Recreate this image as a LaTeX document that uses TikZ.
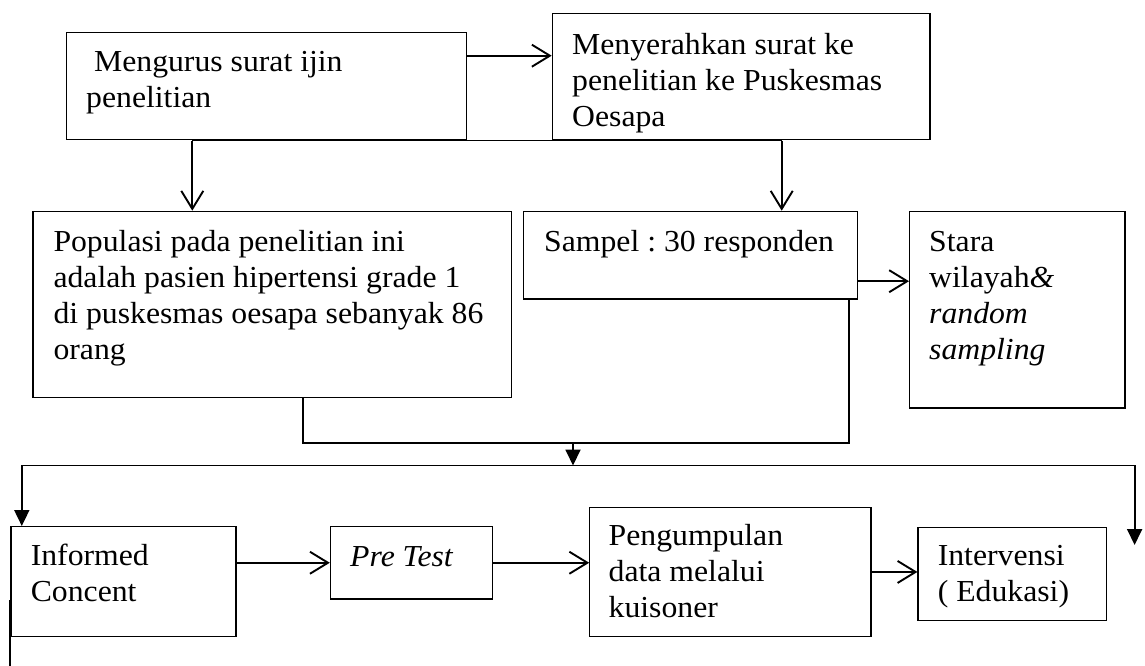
\documentclass[tikz,border=0pt]{standalone}
\usepackage{fontspec}
\setmainfont[FakeStretch=1.04]{Liberation Serif}
\usetikzlibrary{arrows.meta,calc}
\begin{document}
\begin{tikzpicture}[x=1pt,y=-1pt,
  box/.style={draw, line width=1.2pt, inner sep=0pt, anchor=north west},
  txt/.style={anchor=north west, inner sep=0pt, align=left, font=\fontsize{30.5}{36}\selectfont\frenchspacing},
  conn/.style={line width=1.9pt},
  oarrow/.style={conn, -{Straight Barb[length=18pt,width=22pt,line width=1.9pt]}},
  farrow/.style={conn, -{Triangle[length=16pt,width=15pt]}}]
\useasboundingbox (0,0) rectangle (1145,666);
% boxes
\node[box, minimum width=400.3pt, minimum height=106.4pt] (A) at (65.7,32.3) {};
\node[box, minimum width=377.6pt, minimum height=125.4pt] (B) at (551.7,13.3) {};
\node[box, minimum width=478.2pt, minimum height=186pt] (C) at (32.3,210.7) {};
\node[box, minimum width=333.8pt, minimum height=87.6pt] (D) at (522.7,210.7) {};
\node[box, minimum width=215.3pt, minimum height=196.6pt] (E) at (909,210.7) {};
\node[box, minimum width=225pt, minimum height=110pt] (F) at (10.3,526) {};
\node[box, minimum width=162.2pt, minimum height=72.3pt] (G) at (329.8,526) {};
\node[box, minimum width=281.2pt, minimum height=129.3pt] (H) at (589.2,506.7) {};
\node[box, minimum width=188.1pt, minimum height=93.3pt] (I) at (917.4,526.7) {};
% texts (first baseline = top + 25.2)
\node[txt] (tA) at (86,45.8) {\strut\ Mengurus surat ijin\\penelitian};
\node[txt] (tB) at (572,28.8) {\strut Menyerahkan surat ke\\penelitian ke Puskesmas\\Oesapa};
\node[txt] (tC) at (53.3,225.8) {\strut Populasi pada penelitian ini\\adalah pasien hipertensi grade 1\\di puskesmas oesapa sebanyak 86\\orang};
\node[txt] (tD) at (544,225.8) {\strut Sampel : 30 responden};
\node[txt] (tE) at (929,226.5) {\strut Stara\\wilayah\textit{\&}\\\textit{random}\\\textit{sampling}};
\node[txt] (tF) at (30.6,539.8) {\strut Informed\\Concent};
\node[txt] (tG) at (350,540.8) {\strut\textit{Pre Test}};
\node[txt] (tH) at (608.5,519.8) {\strut Pengumpulan\\data melalui\\kuisoner};
\node[txt] (tI) at (937.6,539.8) {\strut Intervensi\\( Edukasi)};
% connectors
\coordinate (ab) at ([yshift=-23.4pt]A.north east);
\draw[oarrow] (ab) -- (ab -| B.west);
\coordinate (s1) at (192.3,140.5);
\coordinate (s2) at (781.7,140.5);
\draw[conn] (s1) -- (s2);
\draw[oarrow] (s1) -- (s1 |- C.north);
\draw[oarrow] (s2) -- (s2 |- D.north);
\coordinate (de) at ([yshift=18.3pt]D.south east);
\draw[oarrow] (de) -- (de -| E.west);
\coordinate (m) at (573,443.3);
\coordinate (n) at (573,465.5);
\draw[conn] (C.south -| 303,0) |- (m) -| (D.south -| 849,0);
\draw[farrow] (m) -- (n);
\draw[farrow] (n) -| (F.north -| 21.8,0);
\coordinate (rEnd) at (1134.6,545);
\draw[farrow] (n) -| (rEnd);
\draw[oarrow] (F.east |- G.west) -- (G.west);
\draw[oarrow] (G.east) -- (G.east -| H.west);
\draw[oarrow] (H.east) -- (H.east -| I.west);
\coordinate (fl) at (F.west |- G.south);
\coordinate (fb) at (10.3,666);
\draw[conn] (fl) -- (fb);
\end{tikzpicture}
\end{document}
